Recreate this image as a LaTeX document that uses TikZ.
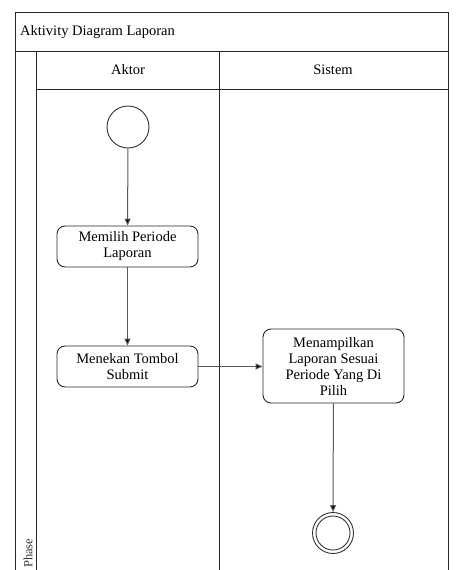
\documentclass[tikz,border=0pt]{standalone}
\usepackage{fontspec}
\setmainfont{Liberation Serif}
\usetikzlibrary{arrows.meta}
\begin{document}
\begin{tikzpicture}[x=1pt,y=-1pt,
  frame/.style={draw=black!85,line width=1pt},
  act/.style={draw=black!85,line width=0.9pt,rounded corners=8pt,minimum width=141pt,align=center,font=\fontsize{14.5}{16}\selectfont,inner sep=2pt},
  flow/.style={draw=black!65,line width=1pt,-{Triangle[length=7pt,width=6pt,fill=black]}},
  lbl/.style={font=\fontsize{14.5}{16}\selectfont}]
\useasboundingbox (0,0) rectangle (456,570);
% frame
\draw[frame] (15,571) -- (15,12) -- (448,12) -- (448,571);
\draw[frame] (15,51) -- (448,51);
\draw[frame] (36,51) -- (36,571);
\draw[frame] (36,89) -- (448,89);
\draw[frame] (219,51) -- (219,571);
\node[lbl,anchor=west,inner sep=0pt] (title) at (20,32) {Aktivity Diagram Laporan};
\node[lbl] (aktor) at (128,70) {Aktor};
\node[lbl] (sistem) at (333,70) {Sistem};
\node[font=\fontsize{12.5}{14}\selectfont,rotate=90,anchor=west,inner sep=0pt,text=black!80] (phase) at (28,568) {Phase};
% nodes
\node[draw=black!80,line width=0.9pt,circle,minimum size=42pt,inner sep=0pt] (start) at (128,127) {};
\node[act,minimum height=41pt] (pilih) at (127.5,246.5) {Memilih Periode\\Laporan};
\node[act,minimum height=41pt] (tekan) at (127.5,366.5) {Menekan Tombol\\Submit};
\node[act,minimum height=74pt] (tampil) at (333.5,366) {Menampilkan\\Laporan Sesuai\\Periode Yang Di\\Pilih};
\node[draw=black!80,line width=0.9pt,circle,minimum size=41pt,inner sep=0pt] (end) at (333,533) {};
\node[draw=black!80,line width=0.9pt,circle,minimum size=34pt,inner sep=0pt] (endin) at (333,533) {};
% flows
\draw[flow] (start) -- (pilih);
\draw[flow] (pilih) -- (tekan);
\draw[flow] (tekan.east) -- (tekan.east -| tampil.west);
\draw[flow] (tampil) -- (end);
\end{tikzpicture}
\end{document}
